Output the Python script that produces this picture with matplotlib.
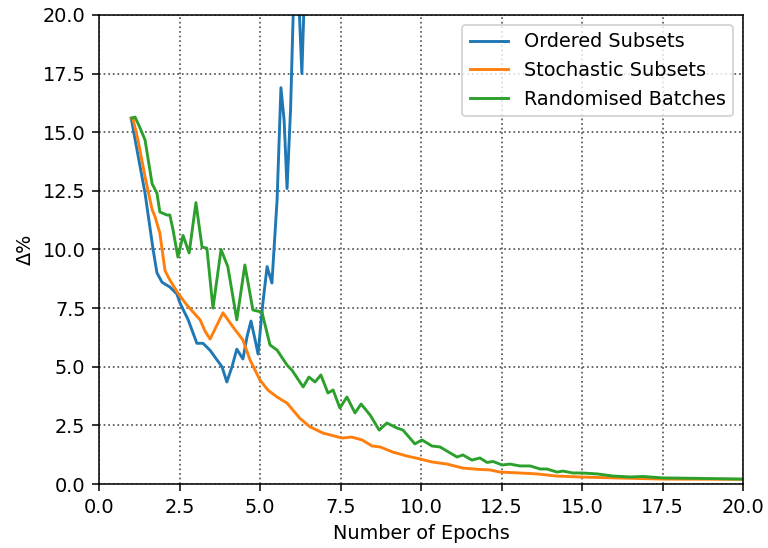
import matplotlib
matplotlib.use("Agg")
import matplotlib.pyplot as plt

# values
ordered_x = [1.0, 1.2, 1.43, 1.68, 1.8, 1.96, 2.2, 2.42, 2.52, 2.77, 3.04, 3.23,
             3.45, 3.66, 3.82, 3.97, 4.13, 4.28, 4.47, 4.6, 4.72, 4.84, 4.94,
             5.08, 5.22, 5.37, 5.53, 5.65, 5.75, 5.84, 5.95, 6.03, 6.15, 6.3,
             6.45, 6.7]
ordered_y = [15.6, 14.1, 12.4, 10.0, 9.0, 8.6, 8.4, 8.1, 7.7, 7.0, 6.0, 6.0,
             5.7, 5.3, 5.0, 4.35, 5.0, 5.75, 5.33, 6.3, 6.95, 6.2, 5.54,
             7.6, 9.27, 8.57, 12.1, 16.9, 15.5, 12.6, 16.0, 20.0, 22.5, 17.5,
             24.0, 35.0]

stochastic_x = [1.0, 1.05, 1.21, 1.43, 1.65, 1.74, 1.89, 2.05, 2.2, 2.45, 2.73,
                3.14, 3.3, 3.45, 3.6, 3.85, 4.16, 4.47, 4.69, 5.0, 5.25, 5.53,
                5.84, 6.24, 6.55, 6.96, 7.55, 7.85, 8.17, 8.48, 8.73, 9.13,
                9.57, 9.97, 10.34, 10.81, 11.3, 11.83, 12.14, 12.45, 13.07,
                13.6, 14.2, 14.94, 16.0, 17.5, 20.0]
stochastic_y = [15.6, 15.6, 14.67, 13.1, 11.7, 11.4, 10.7, 9.1, 8.7, 8.14, 7.63,
                7.0, 6.5, 6.18, 6.6, 7.3, 6.7, 6.14, 5.29, 4.43, 4.0, 3.71,
                3.45, 2.8, 2.44, 2.17, 1.96, 2.0, 1.88, 1.62, 1.58, 1.36,
                1.19, 1.07, 0.94, 0.85, 0.68, 0.62, 0.6, 0.51, 0.47,
                0.43, 0.34, 0.3, 0.26, 0.21, 0.2]

random_x = [1.02, 1.12, 1.27, 1.43, 1.52, 1.65, 1.8, 1.89, 2.11, 2.2, 2.3, 2.45,
            2.61, 2.8, 3.01, 3.2, 3.35, 3.54, 3.79, 4.0, 4.28, 4.53, 4.78,
            5.06, 5.31, 5.53, 5.84, 5.99, 6.34, 6.52, 6.71, 6.89, 7.11, 7.27,
            7.48, 7.7, 7.95, 8.14, 8.42, 8.7, 8.94, 9.25, 9.44, 9.81, 10.03,
            10.34, 10.59, 11.12, 11.3, 11.58, 11.83, 12.05, 12.24, 12.52,
            12.76, 13.07, 13.39, 13.7, 13.91, 14.22, 14.41, 14.72, 15.0,
            15.47, 15.96, 16.5, 16.9, 17.5, 18.6, 20.0]
random_y = [15.6, 15.65, 15.2, 14.67, 13.9, 12.8, 12.4, 11.6, 11.47, 11.47, 10.83,
            9.68, 10.6, 9.85, 12.0, 10.1, 10.06, 7.5, 10.0, 9.27, 7.0, 9.34,
            7.42, 7.33, 5.93, 5.71, 5.07, 4.86, 4.14, 4.56, 4.35, 4.65, 3.88,
            4.01, 3.24, 3.71, 3.03, 3.41, 2.94, 2.3, 2.6, 2.39, 2.3, 1.71,
            1.88, 1.62, 1.58, 1.15, 1.24, 1.02, 1.11, 0.92, 0.96, 0.81,
            0.85, 0.77, 0.77, 0.64, 0.64, 0.51, 0.55, 0.47, 0.47,
            0.43, 0.34, 0.3, 0.32, 0.26, 0.24, 0.21]

fig = plt.figure(figsize=(768 / 139, 548 / 139), dpi=139)
ax = fig.add_subplot(111)
fig.subplots_adjust(left=99 / 768, right=743 / 768, bottom=1 - 484 / 548, top=1 - 15 / 548)

ax.plot(ordered_x, ordered_y, label="Ordered Subsets")
ax.plot(stochastic_x, stochastic_y, label="Stochastic Subsets")
ax.plot(random_x, random_y, label="Randomised Batches")

ax.set_xlim(0, 20)
ax.set_ylim(0, 20)
ax.grid(True, linestyle=":", color="0.35", linewidth=0.9)
ax.set_xlabel("Number of Epochs")
ax.set_ylabel("Δ%")
ax.legend(loc="upper right")

fig.savefig("out.png", dpi=139)
